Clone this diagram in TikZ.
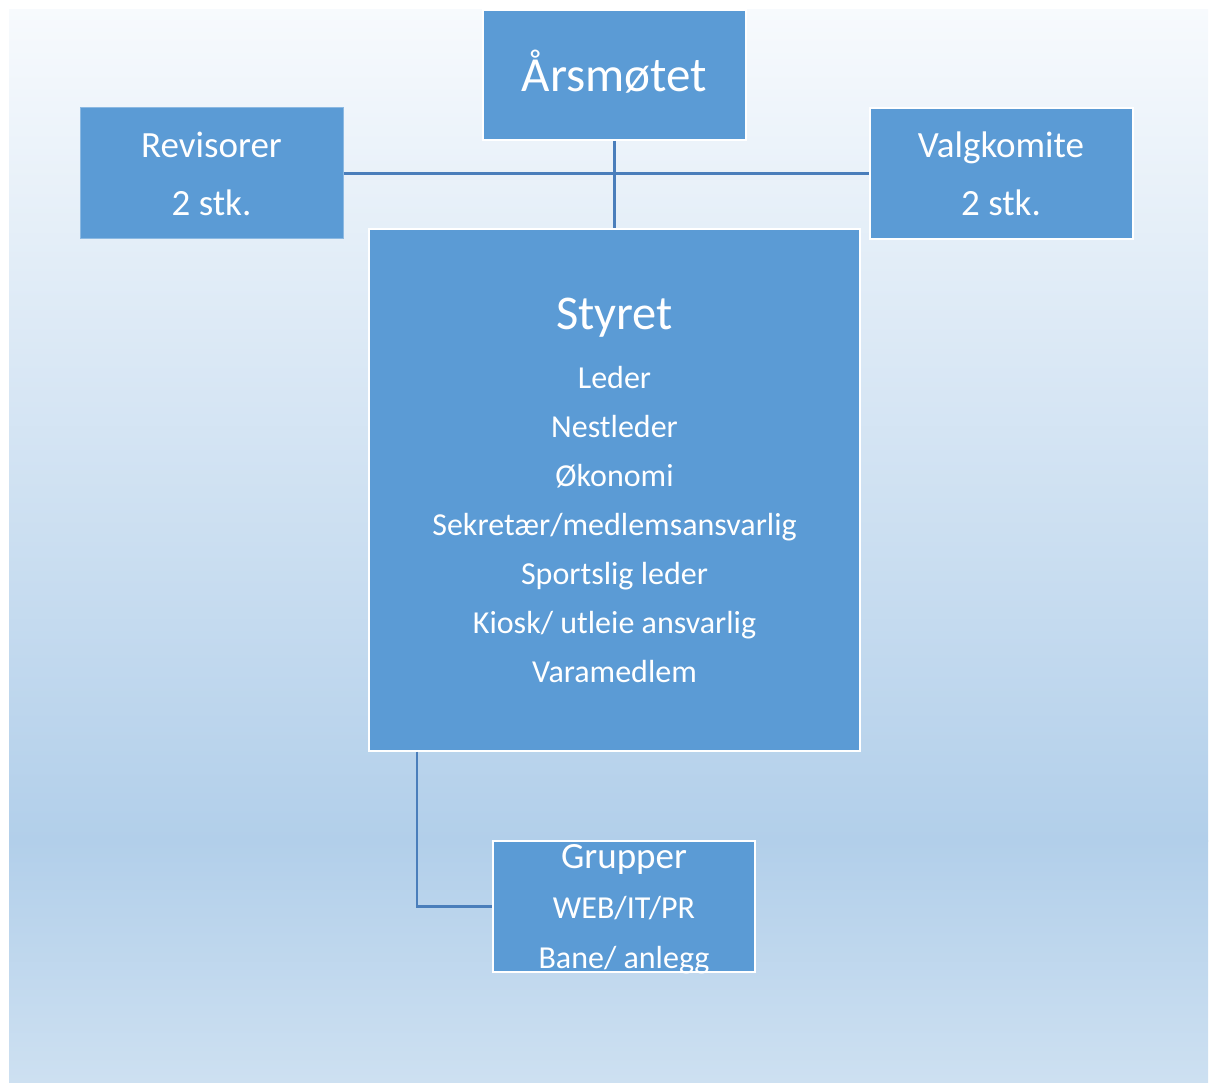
\documentclass[tikz,border=0pt]{standalone}
\usepackage{fontspec}
\setmainfont{Carlito}
\definecolor{boxblue}{HTML}{5B9BD5}
\definecolor{lineblue}{HTML}{4A7EBB}
\definecolor{bgtop}{HTML}{F7FAFD}
\definecolor{bgmid}{HTML}{B2CFEA}
\definecolor{bgbot}{HTML}{CDE0F1}
\begin{document}
\begin{tikzpicture}[x=1pt, y=-1pt,
		box/.style={rectangle, fill=boxblue, draw=white, line width=2pt, text=white, inner sep=0pt, align=center, minimum width=263pt, minimum height=131pt},
		conn/.style={draw=lineblue, line width=2.5pt}]
	\useasboundingbox (0,0) rectangle (1209,1083);
	\shade[top color=bgtop, bottom color=bgmid] (9,10) rectangle (1208,841);
	\shade[top color=bgmid, bottom color=bgbot] (9,840) rectangle (1208,1082);
	\node[box, minimum height=130pt, font=\fontsize{49}{58}\selectfont] (aars) at (614.5,75) {\raisebox{9pt}{Årsmøtet}};
	\node[box, draw=boxblue!70!white, line width=1pt, font=\fontsize{37}{58}\selectfont] (rev) at (211.5,173.5) {Revisorer\\2 stk.};
	\node[box, font=\fontsize{37}{58}\selectfont] (valg) at (1001,173.5) {Valgkomite\\2 stk.};
	\node[box, minimum width=491pt, minimum height=521pt, font=\fontsize{32}{49}\selectfont] (styret) at (614.5,490) {{\fontsize{48.5}{49}\selectfont Styret}\\[10pt]Leder\\Nestleder\\Økonomi\\Sekretær/medlemsansvarlig\\Sportslig leder\\Kiosk/ utleie ansvarlig\\Varamedlem};
	\node[box, minimum width=262pt, font=\fontsize{32}{50}\selectfont] (grupper) at (624,906.5) {{\fontsize{37}{50}\selectfont Grupper}\\WEB/IT/PR\\\smash{Bane/ anlegg}};
	\draw[conn] (aars) -- (styret);
	\draw[conn] (rev) -- (valg);
	\draw[conn] ([xshift=49pt]styret.south west) |- (grupper.west);
\end{tikzpicture}
\end{document}
